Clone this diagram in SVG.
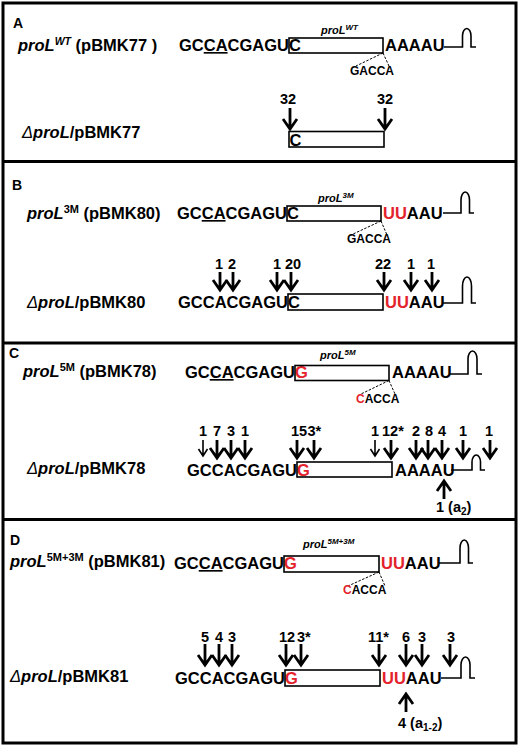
<svg xmlns="http://www.w3.org/2000/svg" width="520" height="747" viewBox="0 0 520 747">
<style>
text{font-family:"Liberation Sans",Arial,sans-serif;font-weight:bold;fill:#000}
.lbl{font-size:16.5px}
.seq{font-size:16.5px}
.pl{font-size:14px}
.it{font-style:italic}
.dl{font-style:italic;font-weight:normal}
.bl{font-size:11px;font-style:italic}
.sm{font-size:12px}
.num{font-size:14.5px;text-anchor:middle}
.ns{font-size:14.5px}
.red{fill:#e3222b}
.box{fill:none;stroke:#000;stroke-width:1.6}
.frame{fill:none;stroke:#000;stroke-width:3}
.hp{fill:none;stroke:#000;stroke-width:1.6}
.dash{fill:none;stroke:#000;stroke-width:1;stroke-dasharray:2.5 1.5}
.arr{fill:none;stroke:#000;stroke-width:2.8;stroke-linejoin:miter}
.thin{fill:none;stroke:#000;stroke-width:1.6;stroke-linejoin:miter}
</style>
<defs>
<path id="a20" class="arr" d="M0,-20V-3M-7,-12L0,-2L7,-12"/>
<path id="a23" class="arr" d="M0,-23V-3M-7,-12L0,-2L7,-12"/>
<path id="t17" class="thin" d="M0,-17V-2M-4.5,-8L0,-1L4.5,-8"/>
<path id="u20" class="arr" d="M0,20V3M-7,12L0,2L7,12"/>
</defs>
<rect class="frame" x="3" y="3" width="513" height="740"/>
<g id="dividers">
<line class="frame" x1="3" y1="161.5" x2="516" y2="161.5"/>
<line class="frame" x1="3" y1="343" x2="516" y2="343"/>
<line class="frame" x1="3" y1="519.5" x2="516" y2="519.5"/>
</g>

<g id="panelA">
<text x="13" y="28" class="pl">A</text>
<g id="A-wt">
<text x="18" y="51" class="lbl"><tspan class="it">proL</tspan><tspan class="it" font-size="10.5" dy="-6">WT</tspan><tspan dy="6"> (pBMK77 )</tspan></text>
<text x="289" y="51" class="seq" text-anchor="end">GC<tspan text-decoration="underline">CA</tspan>CGAGU</text>
<text x="289" y="51" class="seq">C</text>
<rect class="box" x="289" y="38" width="94" height="15"/>
<text x="385" y="51" class="seq">AAAAU</text>
<path class="hp" d="M444,47H462.5V36A4.25,7.5 0 0 1 471,36V47H476"/>
<text x="321" y="34" class="bl">proL<tspan font-size="8" dy="-4">WT</tspan></text>
<path class="dash" d="M383,53L356,66M383,53L389,66"/>
<text x="350" y="75" class="sm">GACCA</text>
</g>
<g id="A-del">
<text x="22" y="138" class="lbl"><tspan class="dl">Δ</tspan><tspan class="it">proL</tspan>/pBMK77</text>
<text x="289.5" y="146" class="seq">C</text>
<rect class="box" x="289" y="131.5" width="95" height="15.5"/>
<text x="288" y="104" class="num">32</text>
<text x="385" y="104" class="num">32</text>
</g>
</g>

<g id="panelB">
<text x="12" y="190" class="pl">B</text>
<g id="B-3m">
<text x="27" y="219" class="lbl"><tspan class="it">proL</tspan><tspan font-size="11" dy="-6">3M</tspan><tspan dy="6"> (pBMK80)</tspan></text>
<text x="287" y="219" class="seq" text-anchor="end">GC<tspan text-decoration="underline">CA</tspan>CGAGU</text>
<text x="287" y="219" class="seq">C</text>
<rect class="box" x="287" y="206" width="94" height="15"/>
<text x="383" y="219" class="seq"><tspan class="red">UU</tspan>AAU</text>
<path class="hp" d="M443,213H461V200A4.25,8 0 0 1 469.5,200V213H474"/>
<text x="318" y="202" class="bl">proL<tspan font-size="8" dy="-4">3M</tspan></text>
<path class="dash" d="M381,221L351,235M381,221L387,235"/>
<text x="347" y="243" class="sm">GACCA</text>
</g>
<g id="B-del">
<text x="27" y="308" class="lbl"><tspan class="dl">Δ</tspan><tspan class="it">proL</tspan>/pBMK80</text>
<text x="288" y="308" class="seq" text-anchor="end">GCCACGAGU</text>
<text x="288" y="308" class="seq">C</text>
<rect class="box" x="288" y="294" width="95" height="16"/>
<text x="385" y="308" class="seq"><tspan class="red">UU</tspan>AAU</text>
<path class="hp" d="M443,303H462.5V286A4.5,9 0 0 1 471.5,286V303H476"/>
<text x="219" y="269" class="num">1</text>
<text x="232" y="269" class="num">2</text>
<text x="277" y="269" class="num">1</text>
<text x="293" y="269" class="num">20</text>
<text x="383" y="269" class="num">22</text>
<text x="411" y="269" class="num">1</text>
<text x="431" y="269" class="num">1</text>
</g>
</g>

<g id="panelC">
<text x="9" y="358" class="pl">C</text>
<g id="C-5m">
<text x="23" y="377" class="lbl"><tspan class="it">proL</tspan><tspan font-size="11" dy="-6">5M</tspan><tspan dy="6"> (pBMK78)</tspan></text>
<text x="295" y="378" class="seq" text-anchor="end">GC<tspan text-decoration="underline">CA</tspan>CGAGU</text>
<text x="295" y="378" class="seq red">G</text>
<rect class="box" x="295" y="365.5" width="94" height="15"/>
<text x="392" y="378" class="seq">AAAAU</text>
<path class="hp" d="M450,374H468V359A4.5,8 0 0 1 477,359V374H482"/>
<text x="320" y="359" class="bl">proL<tspan font-size="8" dy="-4">5M</tspan></text>
<path class="dash" d="M389,380.5L361,394M389,380.5L395,394"/>
<text x="356" y="403" class="sm"><tspan class="red">C</tspan>ACCA</text>
</g>
<g id="C-del">
<text x="27" y="474" class="lbl"><tspan class="dl">Δ</tspan><tspan class="it">proL</tspan>/pBMK78</text>
<text x="297" y="476" class="seq" text-anchor="end">GCCACGAGU</text>
<text x="297" y="476" class="seq red">G</text>
<rect class="box" x="297" y="462" width="95" height="15"/>
<text x="395" y="476" class="seq">AAAAU</text>
<path class="hp" d="M451,470H472V462A4.25,7 0 0 1 480.5,462V470H485"/>
<text x="203" y="436" class="num">1</text>
<text x="217" y="436" class="num">7</text>
<text x="231" y="436" class="num">3</text>
<text x="245" y="436" class="num">1</text>
<text x="299" y="436" class="num">15</text>
<text x="307.5" y="436" class="ns">3*</text>
<text x="375" y="436" class="num">1</text>
<text x="382" y="436" class="ns">12*</text>
<text x="416" y="436" class="num">2</text>
<text x="429" y="436" class="num">8</text>
<text x="442" y="436" class="num">4</text>
<text x="463" y="436" class="num">1</text>
<text x="489" y="436" class="num">1</text>
<text x="436" y="512" class="ns">1 (a<tspan font-size="10" dy="3">2</tspan><tspan dy="-3">)</tspan></text>
</g>
</g>

<g id="panelD">
<text x="10" y="545" class="pl">D</text>
<g id="D-5m3m">
<text x="10" y="567" class="lbl"><tspan class="it">proL</tspan><tspan font-size="11" dy="-6">5M+3M</tspan><tspan dy="6"> (pBMK81)</tspan></text>
<text x="284" y="569" class="seq" text-anchor="end">GC<tspan text-decoration="underline">CA</tspan>CGAGU</text>
<text x="284" y="569" class="seq red">G</text>
<rect class="box" x="284" y="556" width="95" height="16"/>
<text x="381" y="569" class="seq"><tspan class="red">UU</tspan>AAU</text>
<path class="hp" d="M439,563H460V548A4.25,8 0 0 1 468.5,548V563H473"/>
<text x="303" y="548" class="bl">proL<tspan font-size="8" dy="-4">5M+3M</tspan></text>
<path class="dash" d="M379,572L348,586M379,572L385,586"/>
<text x="343" y="594" class="sm"><tspan class="red">C</tspan>ACCA</text>
</g>
<g id="D-del">
<text x="10" y="682" class="lbl"><tspan class="dl">Δ</tspan><tspan class="it">proL</tspan>/pBMK81</text>
<text x="285" y="684" class="seq" text-anchor="end">GCCACGAGU</text>
<text x="285" y="684" class="seq red">G</text>
<rect class="box" x="285" y="670" width="95" height="16"/>
<text x="382" y="684" class="seq"><tspan class="red">UU</tspan>AAU</text>
<path class="hp" d="M441,678H461V665A4.5,8 0 0 1 470,665V678H475"/>
<text x="205" y="642" class="num">5</text>
<text x="219" y="642" class="num">4</text>
<text x="232" y="642" class="num">3</text>
<text x="287" y="642" class="num">12</text>
<text x="297" y="642" class="ns">3*</text>
<text x="368" y="642" class="ns">11*</text>
<text x="406" y="642" class="num">6</text>
<text x="422" y="642" class="num">3</text>
<text x="451" y="642" class="num">3</text>
<text x="398" y="728" class="ns">4 (a<tspan font-size="10" dy="3">1-2</tspan><tspan dy="-3">)</tspan></text>
</g>
</g>

<g id="connectors">
<use href="#a23" x="290" y="131"/>
<use href="#a23" x="385" y="131"/>
<use href="#a20" x="220" y="292"/>
<use href="#a20" x="233" y="292"/>
<use href="#a20" x="277" y="292"/>
<use href="#a20" x="291" y="292"/>
<use href="#a20" x="384" y="292"/>
<use href="#a20" x="411" y="292"/>
<use href="#a20" x="432" y="292"/>
<use href="#t17" x="203" y="457"/>
<use href="#a20" x="217" y="460"/>
<use href="#a20" x="231" y="460"/>
<use href="#a20" x="245" y="460"/>
<use href="#a20" x="297" y="460"/>
<use href="#a20" x="314" y="460"/>
<use href="#t17" x="375" y="457"/>
<use href="#a20" x="391" y="460"/>
<use href="#a20" x="416" y="460"/>
<use href="#a20" x="428" y="460"/>
<use href="#a20" x="442" y="460"/>
<use href="#a20" x="463" y="460"/>
<use href="#a20" x="490" y="460"/>
<use href="#u20" x="444" y="479"/>
<use href="#a23" x="205" y="667"/>
<use href="#a23" x="219" y="667"/>
<use href="#a23" x="232" y="667"/>
<use href="#a23" x="286" y="667"/>
<use href="#a23" x="301" y="667"/>
<use href="#a23" x="379" y="667"/>
<use href="#a23" x="406" y="667"/>
<use href="#a23" x="422" y="667"/>
<use href="#a23" x="450" y="667"/>
<use href="#u20" x="406" y="692"/>
</g>
</svg>
